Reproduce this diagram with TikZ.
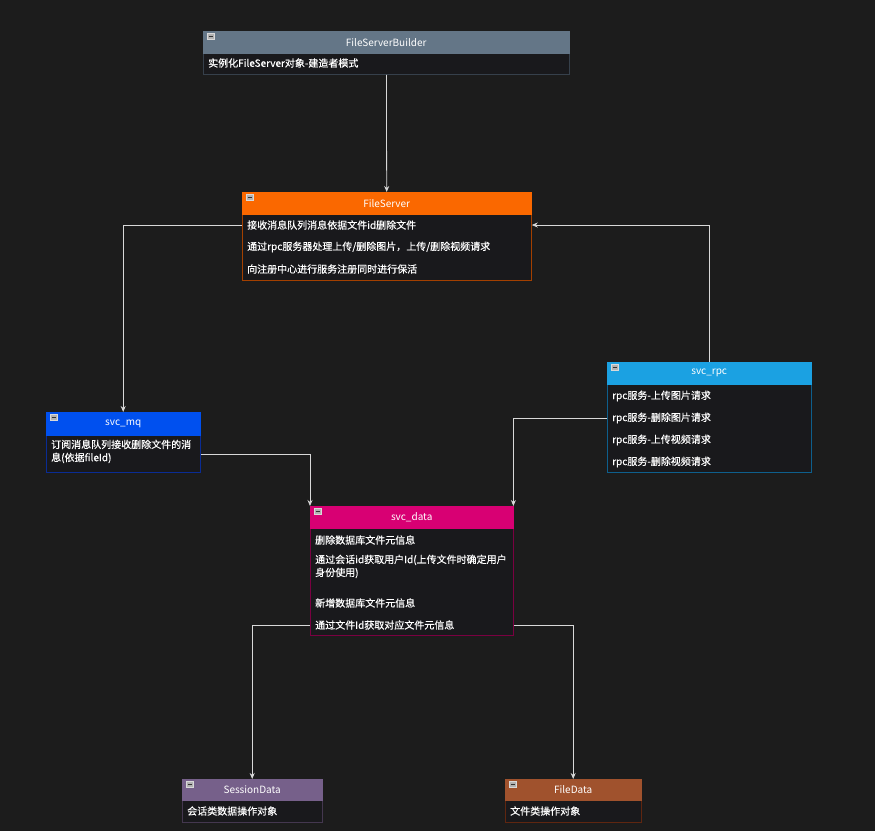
\documentclass[tikz,border=0pt]{standalone}
\usepackage{fontspec}
\setmainfont{Noto Sans CJK SC}
\newfontfamily\bodyfont{Noto Sans CJK SC}[FakeBold=0.4]
\usetikzlibrary{arrows.meta}
\definecolor{bg}{HTML}{1C1C1C}
\definecolor{bodyfill}{HTML}{19191C}
\definecolor{conncol}{HTML}{D8D8D8}
\definecolor{hdrgray}{HTML}{647687}
\definecolor{bdgray}{HTML}{36404B}
\definecolor{hdrorange}{HTML}{FA6800}
\definecolor{bdorange}{HTML}{A34000}
\definecolor{hdrblue}{HTML}{1BA1E2}
\definecolor{bdblue}{HTML}{0E5F8C}
\definecolor{hdrcobalt}{HTML}{0050EF}
\definecolor{bdcobalt}{HTML}{0A2C94}
\definecolor{hdrmagenta}{HTML}{D80073}
\definecolor{bdmagenta}{HTML}{7A0041}
\definecolor{hdrviolet}{HTML}{76608A}
\definecolor{bdviolet}{HTML}{44374F}
\definecolor{hdrbrown}{HTML}{A0522D}
\definecolor{bdbrown}{HTML}{5F2610}
\tikzset{
  hdr/.style={draw=#1, fill=#1, anchor=north west, inner sep=0pt, text=white,
    font=\fontsize{10}{11}\selectfont},
  bodybox/.style={draw=#1, fill=bodyfill, anchor=north west, inner sep=0pt, line width=0.8pt},
  rowtext/.style={anchor=west, inner sep=0pt, text=white, font=\bodyfont\fontsize{10}{13}\selectfont},
  conn/.style={draw=conncol, line width=0.8pt, -{Stealth[length=6pt,width=5pt]}},
  icon/.style={fill=gray!60, draw=gray!30, line width=0.4pt}
}
\newcommand{\minusicon}[1]{%
  \path[icon] ([shift={(4,2)}]#1.north west) rectangle ([shift={(11,8)}]#1.north west);
  \draw[black!80, line width=1pt] ([shift={(5.5,5)}]#1.north west) -- ([shift={(9.5,5)}]#1.north west);
}
\begin{document}
\begin{tikzpicture}[x=1pt,y=-1pt]
\fill[bg] (0,0) rectangle (875,831);
\useasboundingbox (0,0) rectangle (875,831);

% FileServerBuilder
\node[bodybox=bdgray, minimum width=366pt, minimum height=21pt] (fsbb) at (203,53) {};
\node[hdr=hdrgray, minimum width=366pt, minimum height=22pt] (fsb) at (203,31) {FileServerBuilder};
\minusicon{fsb}
\node[rowtext] (fsb1) at (208,63) {实例化FileServer对象-建造者模式};

% FileServer
\node[bodybox=bdorange, minimum width=289pt, minimum height=66pt] (fsbody) at (242,214) {};
\node[hdr=hdrorange, minimum width=289pt, minimum height=22pt] (fs) at (242,192) {FileServer};
\minusicon{fs}
\node[rowtext] (fs1) at (247,225) {接收消息队列消息依据文件id删除文件};
\node[rowtext] (fs2) at (247,247) {通过rpc服务器处理上传/删除图片，上传/删除视频请求};
\node[rowtext] (fs3) at (247,269) {向注册中心进行服务注册同时进行保活};

% svc_rpc
\node[bodybox=bdblue, minimum width=204pt, minimum height=88pt] (rpcbody) at (607,384) {};
\node[hdr=hdrblue, minimum width=204pt, minimum height=22pt] (rpc) at (607,362) {svc\_rpc};
\minusicon{rpc}
\node[rowtext] (rpc1) at (612,396) {rpc服务-上传图片请求};
\node[rowtext] (rpc2) at (612,418) {rpc服务-删除图片请求};
\node[rowtext] (rpc3) at (612,440) {rpc服务-上传视频请求};
\node[rowtext] (rpc4) at (612,462) {rpc服务-删除视频请求};

% svc_mq
\node[bodybox=bdcobalt, minimum width=154pt, minimum height=37pt] (mqbody) at (46,435) {};
\node[hdr=hdrcobalt, minimum width=154pt, minimum height=23pt] (mq) at (46,412) {svc\_mq};
\minusicon{mq}
\node[rowtext, anchor=north west, align=left] (mq1) at (51,439.5) {订阅消息队列接收删除文件的消\\息(依据fileId)};

% svc_data
\node[bodybox=bdmagenta, minimum width=203pt, minimum height=107pt] (databody) at (310,528) {};
\node[hdr=hdrmagenta, minimum width=203pt, minimum height=22pt] (data) at (310,506) {svc\_data};
\minusicon{data}
\node[rowtext] (data1) at (315,540) {删除数据库文件元信息};
\node[rowtext, anchor=north west, align=left] (data2) at (315,554.5) {通过会话id获取用户Id(上传文件时确定用户\\身份使用)};
\node[rowtext] (data3) at (315,603) {新增数据库文件元信息};
\node[rowtext] (data4) at (315,625) {通过文件Id获取对应文件元信息};

% SessionData
\node[bodybox=bdviolet, minimum width=140pt, minimum height=22pt] (sessbody) at (182,800) {};
\node[hdr=hdrviolet, minimum width=140pt, minimum height=21pt] (sess) at (182,779) {SessionData};
\minusicon{sess}
\node[rowtext] (sess1) at (187,811) {会话类数据操作对象};

% FileData
\node[bodybox=bdbrown, minimum width=136pt, minimum height=22pt] (fdbody) at (505,800) {};
\node[hdr=hdrbrown, minimum width=136pt, minimum height=21pt] (fd) at (505,779) {FileData};
\minusicon{fd}
\node[rowtext] (fd1) at (510,811) {文件类操作对象};

% connectors
\draw[conn] (fsbb.south) -- (fs.north);
\draw[conn] (fsbody.west |- fs1.center) -| (mq.north);
\draw[conn] (rpc.north) |- (fsbody.east |- fs1.center);
\draw[conn] (mqbody.east) -| (data.north west);
\draw[conn] (rpcbody.west |- rpc2.center) -| (data.north east);
\draw[conn] (databody.west |- data4.center) -| (sess.north);
\draw[conn] (databody.east |- data4.center) -| (fd.north);
\end{tikzpicture}
\end{document}
